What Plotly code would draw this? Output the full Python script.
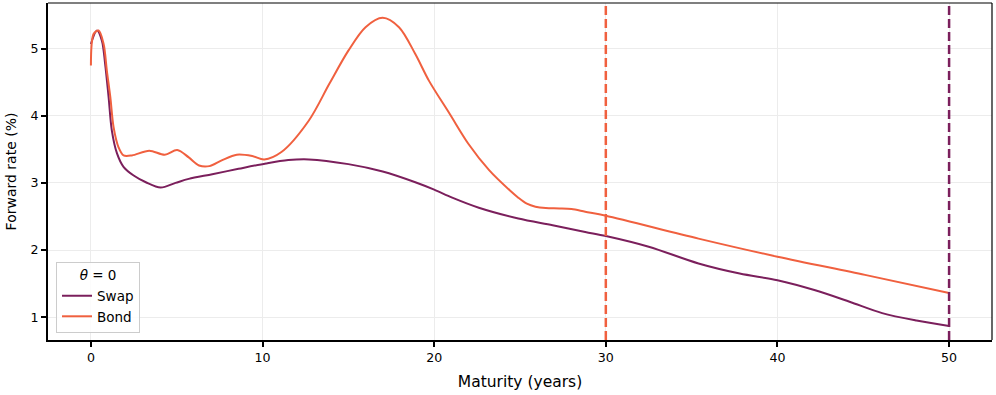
import plotly.graph_objects as go

# ---- data ----
swap_maturity = [0, 0.35, 0.64, 0.83, 1.03, 1.22, 1.52, 1.9, 2.49, 3.2, 4.06, 4.93, 5.7,
                 7.07, 8.6, 10.2, 11.5, 12.7, 15.0, 17.0, 18.9, 20.0, 21.05, 22.6, 24.9, 26.9, 28.8,
                 30.0, 32.5, 35.4, 37.8, 40.0, 42.2, 44.2, 46.1, 48.1, 50.0]
swap_rate = [5.07, 5.27, 5.12, 4.77, 4.28, 3.78, 3.44, 3.24, 3.11, 3.01, 2.93, 3.00, 3.06,
             3.13, 3.21, 3.29, 3.34, 3.35, 3.28, 3.17, 3.01, 2.90, 2.78, 2.63, 2.47, 2.37, 2.27,
             2.21, 2.05, 1.80, 1.65, 1.55, 1.40, 1.23, 1.06, 0.95, 0.87]

bond_maturity = [0, 0.16, 0.45, 0.74, 0.93, 1.13, 1.32, 1.61, 1.9, 2.39, 3.4,
                 4.3, 5.03, 5.7, 6.3, 6.9, 7.65, 8.5, 9.4, 10.1, 11.1, 12.7, 13.9, 15.0, 16.0,
                 17.0, 17.95, 18.9, 19.7, 20.9, 22.0, 23.2, 24.4, 24.9, 25.4, 25.9, 26.5,
                 27.3, 28.0, 28.8, 30.0, 35.4, 40.0, 45.1, 50.0]
bond_rate = [4.75, 5.22, 5.27, 5.07, 4.67, 4.28, 3.83, 3.53, 3.41, 3.41, 3.48,
             3.42, 3.49, 3.38, 3.26, 3.25, 3.34, 3.42, 3.40, 3.35, 3.46, 3.93, 4.48, 4.97, 5.32,
             5.46, 5.32, 4.92, 4.52, 4.03, 3.58, 3.19, 2.89, 2.78, 2.69, 2.645, 2.625,
             2.62, 2.61, 2.57, 2.51, 2.17, 1.90, 1.63, 1.36]

series_names = ["Swap", "Bond"]
series_colors = ["#7b1f5c", "#f0603f"]
last_maturity = [50, 30]          # swap, bond: vertical dashed markers
x_ticks = [0, 10, 20, 30, 40, 50]
y_ticks = [1, 2, 3, 4, 5]

FONT = "DejaVu Sans"

fig = go.Figure()
for name, xs, ys, col in zip(series_names, [swap_maturity, bond_maturity],
                             [swap_rate, bond_rate], series_colors):
    fig.add_trace(go.Scatter(x=xs, y=ys, mode="lines", name=name,
                             line=dict(color=col, width=2, shape="spline", smoothing=0.9)))

for xv, col in zip(last_maturity, series_colors):
    fig.add_vline(x=xv, line=dict(color=col, width=2.5, dash="9px,4px"), layer="above")

# thin top / right spines
fig.add_shape(type="line", xref="paper", yref="paper", x0=0, x1=1, y0=1, y1=1,
              line=dict(color="black", width=1.2))
fig.add_shape(type="line", xref="paper", yref="paper", x0=1, x1=1, y0=0, y1=1,
              line=dict(color="black", width=1.2))

axis_common = dict(showgrid=True, gridcolor="#ececec", gridwidth=1, zeroline=False,
                   showline=True, linecolor="black", linewidth=2, automargin=False,
                   ticks="outside", ticklen=5, tickwidth=1.5, tickcolor="black",
                   tickfont=dict(family=FONT, size=12.6, color="black"))

fig.update_layout(
    width=996, height=395,
    margin=dict(l=48, r=4, t=3, b=55),
    paper_bgcolor="white", plot_bgcolor="white",
    font=dict(family=FONT, size=13, color="black"),
    xaxis=dict(range=[-2.5, 52.5], tickvals=x_ticks, ticktext=[str(v) for v in x_ticks],
               title=dict(text="Maturity (years)", font=dict(family=FONT, size=15.5), standoff=12),
               **axis_common),
    yaxis=dict(range=[0.66, 5.68], tickvals=y_ticks, ticktext=[str(v) for v in y_ticks],
               title=dict(text="Forward rate (%)", font=dict(family=FONT, size=14), standoff=11),
               **axis_common),
    showlegend=True,
    legend=dict(x=0.0085, y=0.021, xanchor="left", yanchor="bottom",
                bgcolor="rgba(255,255,255,0.85)", bordercolor="#cccccc", borderwidth=1,
                font=dict(family=FONT, size=13.5), itemwidth=30, tracegroupgap=0,
                title=dict(text="<i>θ</i> = 0", side="top center",
                           font=dict(family=FONT, size=13.5))),
)

fig.write_html("out.html", config={"displayModeBar": False},
               post_script="document.body.style.margin='0';")
